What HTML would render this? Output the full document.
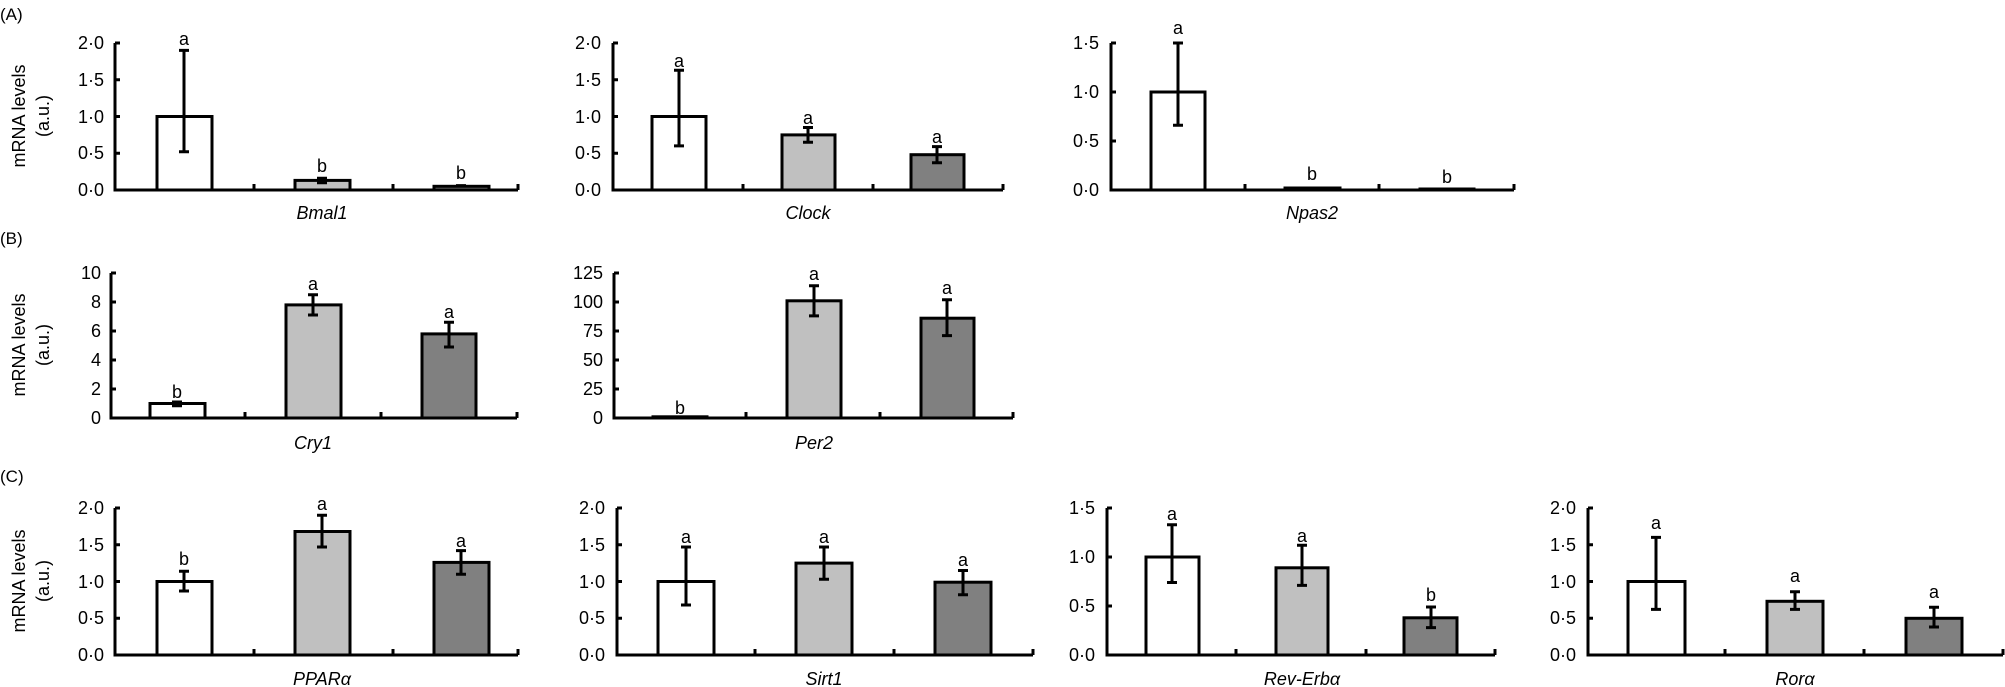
<!DOCTYPE html>
<html><head><meta charset="utf-8"><style>
html,body{margin:0;padding:0;background:#fff}
svg{display:block}
text{font-family:"Liberation Sans",Arial,sans-serif;fill:#000}
.t{font-size:18px;text-anchor:end}
.l{font-size:18px;text-anchor:middle}
.x{font-size:18px;font-style:italic;text-anchor:middle}
.y{font-size:18px;text-anchor:middle}
.p{font-size:17px}
</style></head><body>
<svg width="2005" height="687" viewBox="0 0 2005 687" xmlns="http://www.w3.org/2000/svg">
<g stroke="#000" stroke-width="3" fill="none">
<path d="M115,43V190H518M115,43h5M115,79.75h5M115,116.5h5M115,153.25h5M254,190v-6M393,190v-6M518,190v-6"/>
<rect x="157" y="116.5" width="55" height="73.5" fill="#fff"/>
<rect x="295" y="180.4" width="55" height="9.6" fill="#c0c0c0"/>
<rect x="434" y="186.3" width="55" height="3.7" fill="#808080"/>
<path d="M184,151.8V50.4M179,151.8h10M179,50.4h10M322,182.7V178.2M317,182.7h10M317,178.2h10M461,187V185.6M456,185.6h10"/>
<path d="M613,43V190H1003M613,43h5M613,79.75h5M613,116.5h5M613,153.25h5M743,190v-6M873,190v-6M1003,190v-6"/>
<rect x="652" y="116.5" width="54" height="73.5" fill="#fff"/>
<rect x="782" y="134.9" width="53" height="55.1" fill="#c0c0c0"/>
<rect x="911" y="154.7" width="53" height="35.3" fill="#808080"/>
<path d="M679,145.9V70.2M674,145.9h10M674,70.2h10M808,142.2V127.5M803,142.2h10M803,127.5h10M937,162.8V146.6M932,162.8h10M932,146.6h10"/>
<path d="M1111,43V190H1514M1111,43h5M1111,92h5M1111,141h5M1245,190v-6M1379,190v-6M1514,190v-6"/>
<rect x="1151" y="92" width="54" height="98" fill="#fff"/>
<rect x="1285" y="188" width="55" height="2" fill="#c0c0c0"/>
<rect x="1420" y="189" width="54" height="1" fill="#808080"/>
<path d="M1178,125.3V43M1173,125.3h10M1173,43h10"/>
<path d="M111,273V418H517M111,273h5M111,302h5M111,331h5M111,360h5M111,389h5M245,418v-6M381,418v-6M517,418v-6"/>
<rect x="150" y="403.5" width="55" height="14.5" fill="#fff"/>
<rect x="286" y="304.9" width="55" height="113.1" fill="#c0c0c0"/>
<rect x="422" y="333.9" width="54" height="84.1" fill="#808080"/>
<path d="M177,405.7V402M172,405.7h10M172,402h10M313,315V294.8M308,315h10M308,294.8h10M449,347V322.3M444,347h10M444,322.3h10"/>
<path d="M614,273V418H1013M614,273h5M614,302h5M614,331h5M614,360h5M614,389h5M746,418v-6M880,418v-6M1013,418v-6"/>
<rect x="653" y="416.8" width="54" height="1.2" fill="#fff"/>
<rect x="787" y="300.8" width="54" height="117.2" fill="#c0c0c0"/>
<rect x="921" y="318.2" width="53" height="99.8" fill="#808080"/>
<path d="M814,315.9V285.8M809,315.9h10M809,285.8h10M947,335.6V299.7M942,335.6h10M942,299.7h10"/>
<path d="M115,508V655H518M115,508h5M115,544.75h5M115,581.5h5M115,618.25h5M254,655v-6M393,655v-6M518,655v-6"/>
<rect x="157" y="581.5" width="55" height="73.5" fill="#fff"/>
<rect x="295" y="531.5" width="55" height="123.5" fill="#c0c0c0"/>
<rect x="434" y="562.4" width="55" height="92.6" fill="#808080"/>
<path d="M184,591V571.2M179,591h10M179,571.2h10M322,547V515.3M317,547h10M317,515.3h10M461,574.2V550.6M456,574.2h10M456,550.6h10"/>
<path d="M617,508V655H1033M617,508h5M617,544.75h5M617,581.5h5M617,618.25h5M755,655v-6M894,655v-6M1033,655v-6"/>
<rect x="658" y="581.5" width="56" height="73.5" fill="#fff"/>
<rect x="796" y="563.1" width="56" height="91.9" fill="#c0c0c0"/>
<rect x="935" y="582.2" width="56" height="72.8" fill="#808080"/>
<path d="M686,605V547M681,605h10M681,547h10M824,579.3V547M819,579.3h10M819,547h10M963,594.7V570.5M958,594.7h10M958,570.5h10"/>
<path d="M1107,508V655H1495M1107,508h5M1107,557h5M1107,606h5M1236,655v-6M1366,655v-6M1495,655v-6"/>
<rect x="1146" y="557" width="53" height="98" fill="#fff"/>
<rect x="1276" y="567.8" width="52" height="87.2" fill="#c0c0c0"/>
<rect x="1404" y="617.8" width="53" height="37.2" fill="#808080"/>
<path d="M1172,582.5V524.7M1167,582.5h10M1167,524.7h10M1302,585.4V545.2M1297,585.4h10M1297,545.2h10M1431,627.6V607M1426,627.6h10M1426,607h10"/>
<path d="M1588,508V655H2003M1588,508h5M1588,544.75h5M1588,581.5h5M1588,618.25h5M1725,655v-6M1864,655v-6M2003,655v-6"/>
<rect x="1628" y="581.5" width="57" height="73.5" fill="#fff"/>
<rect x="1767" y="601.3" width="56" height="53.7" fill="#c0c0c0"/>
<rect x="1906" y="618.3" width="56" height="36.7" fill="#808080"/>
<path d="M1656,609.4V537.4M1651,609.4h10M1651,537.4h10M1795,609.4V591.8M1790,609.4h10M1790,591.8h10M1934,627V607.2M1929,627h10M1929,607.2h10"/>
</g>

<text class="p" x="0" y="20">(A)</text>
<text class="p" x="0" y="244">(B)</text>
<text class="p" x="0" y="482">(C)</text>

<text class="y" transform="translate(25,116) rotate(-90)">mRNA levels</text>
<text class="y" transform="translate(49,116) rotate(-90)">(a.u.)</text>
<text class="y" transform="translate(25,345) rotate(-90)">mRNA levels</text>
<text class="y" transform="translate(49,345) rotate(-90)">(a.u.)</text>
<text class="y" transform="translate(25,581) rotate(-90)">mRNA levels</text>
<text class="y" transform="translate(49,581) rotate(-90)">(a.u.)</text>

<text class="t" x="104" y="49">2·0</text><text class="t" x="104" y="86">1·5</text><text class="t" x="104" y="123">1·0</text><text class="t" x="104" y="159">0·5</text><text class="t" x="104" y="196">0·0</text>
<text class="t" x="601" y="49">2·0</text><text class="t" x="601" y="86">1·5</text><text class="t" x="601" y="123">1·0</text><text class="t" x="601" y="159">0·5</text><text class="t" x="601" y="196">0·0</text>
<text class="t" x="1099" y="49">1·5</text><text class="t" x="1099" y="98">1·0</text><text class="t" x="1099" y="147">0·5</text><text class="t" x="1099" y="196">0·0</text>
<text class="t" x="101" y="279">10</text><text class="t" x="101" y="308">8</text><text class="t" x="101" y="337">6</text><text class="t" x="101" y="366">4</text><text class="t" x="101" y="395">2</text><text class="t" x="101" y="424">0</text>
<text class="t" x="603" y="279">125</text><text class="t" x="603" y="308">100</text><text class="t" x="603" y="337">75</text><text class="t" x="603" y="366">50</text><text class="t" x="603" y="395">25</text><text class="t" x="603" y="424">0</text>
<text class="t" x="104" y="514">2·0</text><text class="t" x="104" y="551">1·5</text><text class="t" x="104" y="588">1·0</text><text class="t" x="104" y="624">0·5</text><text class="t" x="104" y="661">0·0</text>
<text class="t" x="605" y="514">2·0</text><text class="t" x="605" y="551">1·5</text><text class="t" x="605" y="588">1·0</text><text class="t" x="605" y="624">0·5</text><text class="t" x="605" y="661">0·0</text>
<text class="t" x="1095" y="514">1·5</text><text class="t" x="1095" y="563">1·0</text><text class="t" x="1095" y="612">0·5</text><text class="t" x="1095" y="661">0·0</text>
<text class="t" x="1576" y="514">2·0</text><text class="t" x="1576" y="551">1·5</text><text class="t" x="1576" y="588">1·0</text><text class="t" x="1576" y="624">0·5</text><text class="t" x="1576" y="661">0·0</text>

<text class="l" x="184" y="45">a</text><text class="l" x="322" y="172">b</text><text class="l" x="461" y="179">b</text>
<text class="l" x="679" y="67">a</text><text class="l" x="808" y="124">a</text><text class="l" x="937" y="143">a</text>
<text class="l" x="1178" y="34">a</text><text class="l" x="1312" y="180">b</text><text class="l" x="1447" y="183">b</text>
<text class="l" x="177" y="398">b</text><text class="l" x="313" y="290">a</text><text class="l" x="449" y="318">a</text>
<text class="l" x="680" y="414">b</text><text class="l" x="814" y="280">a</text><text class="l" x="947" y="294">a</text>
<text class="l" x="184" y="565">b</text><text class="l" x="322" y="510">a</text><text class="l" x="461" y="547">a</text>
<text class="l" x="686" y="543">a</text><text class="l" x="824" y="543">a</text><text class="l" x="963" y="566">a</text>
<text class="l" x="1172" y="520">a</text><text class="l" x="1302" y="542">a</text><text class="l" x="1431" y="601">b</text>
<text class="l" x="1656" y="529">a</text><text class="l" x="1795" y="582">a</text><text class="l" x="1934" y="598">a</text>

<text class="x" x="322" y="219">Bmal1</text>
<text class="x" x="808" y="219">Clock</text>
<text class="x" x="1312" y="219">Npas2</text>
<text class="x" x="313" y="449">Cry1</text>
<text class="x" x="814" y="449">Per2</text>
<text class="x" x="322" y="685">PPARα</text>
<text class="x" x="824" y="685">Sirt1</text>
<text class="x" x="1302" y="685">Rev-Erbα</text>
<text class="x" x="1795" y="685">Rorα</text>
</svg>
</body></html>
